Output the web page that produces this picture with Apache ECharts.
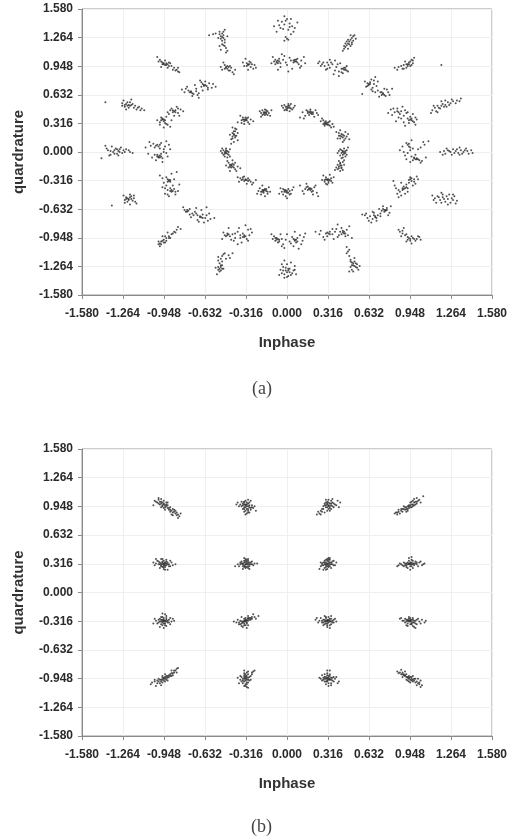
<!DOCTYPE html>
<html>
<head>
<meta charset="utf-8">
<script src="https://cdn.jsdelivr.net/npm/echarts@6/dist/echarts.min.js"></script>
<style>
html,body{margin:0;padding:0;background:#fff;}
#chart{width:515px;height:838px;}
</style>
</head>
<body>
<div id="chart"></div>
<script>
// Axis ticks (shared by both panels)
const tickValues = [-1.580,-1.264,-0.948,-0.632,-0.316,0.000,0.316,0.632,0.948,1.264,1.580];
const axisTitleX = 'Inphase';
const axisTitleY = 'quardrature';
const captions = ['(a)', '(b)'];

// Panel (a): received constellation, inner ring of clusters
const panelAInner = [
[-0.02,0.52],[0.00,0.50],[0.01,0.49],[0.03,0.48],[-0.01,0.47],[0.02,0.51],[0.04,0.47],[-0.03,0.49],[0.01,0.53],[0.05,0.49],[0.00,0.46],[0.02,0.45],
[0.18,0.43],[0.17,0.41],[0.19,0.44],[0.16,0.45],[0.20,0.42],[0.14,0.40],[0.10,0.38],[0.22,0.46],[0.24,0.41],[0.18,0.47],[0.12,0.44],[0.21,0.39],
[0.29,0.33],[0.30,0.31],[0.31,0.32],[0.32,0.30],[0.28,0.35],[0.33,0.29],[0.27,0.37],[0.34,0.27],[0.30,0.34],[0.35,0.31],[0.29,0.29],
[0.41,0.18],[0.43,0.16],[0.40,0.21],[0.44,0.13],[0.42,0.20],[0.46,0.17],[0.39,0.15],[0.45,0.22],[0.43,0.11],[0.48,0.14],[0.41,0.24],
[0.43,0.00],[0.44,-0.02],[0.42,0.02],[0.45,0.01],[0.41,-0.04],[0.44,0.04],[0.46,-0.03],[0.40,0.01],[0.43,-0.06],[0.47,0.05],[0.39,-0.01],[0.45,-0.05],
[0.41,-0.13],[0.40,-0.16],[0.42,-0.15],[0.39,-0.19],[0.43,-0.11],[0.41,-0.21],[0.38,-0.17],[0.44,-0.14],[0.40,-0.10],[0.42,-0.18],
[0.31,-0.30],[0.32,-0.32],[0.30,-0.28],[0.33,-0.31],[0.29,-0.33],[0.34,-0.29],[0.28,-0.26],[0.35,-0.34],[0.31,-0.36],[0.27,-0.31],[0.33,-0.25],
[0.17,-0.40],[0.18,-0.42],[0.16,-0.38],[0.19,-0.44],[0.14,-0.41],[0.21,-0.39],[0.12,-0.43],[0.20,-0.47],[0.10,-0.37],[0.23,-0.45],[0.15,-0.35],[0.24,-0.49],
[-0.01,-0.42],[0.00,-0.45],[-0.02,-0.44],[0.01,-0.41],[-0.03,-0.47],[0.02,-0.43],[-0.01,-0.49],[0.03,-0.46],[-0.05,-0.40],[0.05,-0.39],[0.00,-0.51],[-0.04,-0.44],
[-0.18,-0.42],[-0.17,-0.41],[-0.19,-0.44],[-0.16,-0.43],[-0.21,-0.40],[-0.15,-0.46],[-0.20,-0.47],[-0.14,-0.39],[-0.22,-0.43],[-0.13,-0.44],[-0.19,-0.37],[-0.17,-0.49],
[-0.32,-0.31],[-0.34,-0.30],[-0.30,-0.32],[-0.36,-0.29],[-0.28,-0.33],[-0.38,-0.28],[-0.26,-0.34],[-0.33,-0.27],[-0.31,-0.35],[-0.24,-0.31],[-0.37,-0.33],
[-0.43,-0.14],[-0.44,-0.16],[-0.42,-0.13],[-0.45,-0.12],[-0.41,-0.17],[-0.46,-0.10],[-0.40,-0.19],[-0.44,-0.21],[-0.38,-0.16],[-0.47,-0.15],[-0.42,-0.09],[-0.36,-0.18],
[-0.47,0.00],[-0.48,-0.02],[-0.46,0.01],[-0.49,0.02],[-0.45,-0.03],[-0.50,-0.01],[-0.47,0.04],[-0.44,0.03],[-0.48,-0.05],[-0.51,0.01],[-0.46,-0.06],
[-0.41,0.20],[-0.42,0.17],[-0.40,0.23],[-0.43,0.14],[-0.39,0.25],[-0.41,0.11],[-0.42,0.27],[-0.40,0.16],[-0.38,0.21],[-0.43,0.09],[-0.39,0.18],
[-0.32,0.36],[-0.33,0.34],[-0.31,0.37],[-0.34,0.38],[-0.30,0.33],[-0.35,0.35],[-0.28,0.36],[-0.36,0.40],[-0.26,0.34],[-0.33,0.31],[-0.38,0.33],
[-0.17,0.43],[-0.16,0.42],[-0.18,0.44],[-0.15,0.45],[-0.19,0.41],[-0.14,0.43],[-0.21,0.45],[-0.17,0.47],[-0.13,0.40],[-0.20,0.39],[-0.16,0.46]
];
const panelAInnerMore = [
[0.00,0.48],[-0.01,0.50],[0.02,0.49],[0.01,0.51],[-0.02,0.46],[0.03,0.53],[0.06,0.51],[-0.04,0.51],
[0.17,0.44],[0.19,0.42],[0.18,0.45],[0.16,0.43],[0.20,0.44],[0.15,0.46],[0.23,0.43],[0.13,0.37],
[0.30,0.32],[0.31,0.30],[0.29,0.31],[0.32,0.33],[0.28,0.31],[0.33,0.34],[0.26,0.34],[0.36,0.28],
[0.42,0.17],[0.41,0.15],[0.43,0.19],[0.44,0.18],[0.40,0.18],[0.45,0.15],[0.38,0.22],[0.47,0.20],
[0.43,0.01],[0.42,-0.01],[0.44,0.00],[0.43,-0.03],[0.45,-0.01],[0.41,0.03],[0.46,0.02],[0.42,-0.07],
[0.41,-0.15],[0.40,-0.18],[0.42,-0.17],[0.41,-0.12],[0.39,-0.14],[0.43,-0.20],[0.37,-0.20],[0.44,-0.09],
[0.31,-0.31],[0.32,-0.30],[0.30,-0.30],[0.32,-0.34],[0.29,-0.31],[0.34,-0.32],[0.30,-0.35],[0.36,-0.28],
[0.17,-0.41],[0.18,-0.40],[0.16,-0.42],[0.19,-0.41],[0.15,-0.39],[0.20,-0.43],[0.13,-0.46],[0.22,-0.37],
[-0.01,-0.44],[0.00,-0.43],[0.01,-0.45],[-0.02,-0.42],[0.02,-0.47],[-0.03,-0.41],[0.04,-0.42],[-0.06,-0.46],
[-0.18,-0.43],[-0.17,-0.42],[-0.19,-0.42],[-0.18,-0.45],[-0.16,-0.41],[-0.20,-0.44],[-0.15,-0.44],[-0.23,-0.46],
[-0.32,-0.30],[-0.33,-0.32],[-0.31,-0.31],[-0.35,-0.31],[-0.29,-0.31],[-0.34,-0.28],[-0.30,-0.29],[-0.27,-0.36],
[-0.43,-0.15],[-0.42,-0.16],[-0.44,-0.14],[-0.43,-0.17],[-0.41,-0.14],[-0.45,-0.17],[-0.40,-0.12],[-0.39,-0.21],
[-0.47,-0.01],[-0.48,0.00],[-0.46,-0.02],[-0.47,0.02],[-0.49,-0.03],[-0.45,0.00],[-0.50,0.04],[-0.44,-0.05],
[-0.41,0.19],[-0.42,0.21],[-0.40,0.18],[-0.41,0.23],[-0.42,0.15],[-0.40,0.26],[-0.44,0.19],[-0.38,0.13],
[-0.32,0.35],[-0.33,0.36],[-0.31,0.35],[-0.34,0.36],[-0.32,0.38],[-0.30,0.38],[-0.35,0.32],[-0.29,0.31],
[-0.17,0.44],[-0.18,0.42],[-0.16,0.44],[-0.17,0.41],[-0.19,0.46],[-0.15,0.41],[-0.20,0.43],[-0.12,0.46]
];

// Panel (a): middle ring of clusters
const panelAMiddle = [
[-0.08,0.99],[-0.07,1.01],[-0.09,0.97],[-0.06,1.03],[-0.10,1.00],[-0.05,0.98],[-0.11,1.05],[-0.03,1.02],[0.00,0.96],[-0.02,1.06],[0.03,1.01],[0.05,0.99],[0.06,1.02],[0.07,1.00],[0.08,1.03],[0.09,0.97],[0.11,1.01],[0.13,1.05],[0.10,0.93],[-0.07,0.91],[0.01,0.89],[-0.04,1.08],[0.14,0.98],
[0.25,1.00],[0.27,0.97],[0.29,0.95],[0.31,0.99],[0.33,0.93],[0.30,0.91],[0.35,0.97],[0.37,1.01],[0.38,0.94],[0.40,0.89],[0.42,0.92],[0.44,0.93],[0.45,0.91],[0.46,0.95],[0.43,0.87],[0.40,0.84],[0.36,0.86],[0.47,0.89],[0.41,0.98],[0.33,1.02],
[0.62,0.76],[0.63,0.74],[0.64,0.77],[0.61,0.72],[0.65,0.80],[0.66,0.71],[0.68,0.83],[0.69,0.73],[0.70,0.68],[0.72,0.66],[0.73,0.63],[0.74,0.65],[0.76,0.62],[0.71,0.61],[0.78,0.66],[0.66,0.67],[0.81,0.70],[0.58,0.64],[0.75,0.70],[0.67,0.79],
[0.80,0.47],[0.83,0.44],[0.85,0.48],[0.87,0.42],[0.88,0.45],[0.90,0.40],[0.92,0.43],[0.93,0.37],[0.95,0.39],[0.96,0.35],[0.98,0.33],[0.94,0.32],[1.00,0.36],[0.89,0.50],[0.86,0.38],[0.91,0.29],[0.84,0.34],[0.97,0.42],[0.78,0.43],[0.99,0.30],
[0.92,0.10],[0.94,0.06],[0.95,0.02],[0.93,-0.01],[0.96,-0.05],[0.98,-0.07],[1.00,-0.08],[1.02,-0.09],[0.99,-0.03],[1.04,-0.10],[0.97,0.04],[1.01,0.03],[0.90,0.00],[0.87,0.02],[1.06,0.08],[1.09,0.12],[0.96,0.13],[1.03,-0.12],[0.91,-0.04],[0.95,-0.11],
[0.98,-0.30],[0.96,-0.32],[0.94,-0.34],[0.92,-0.36],[0.90,-0.38],[0.89,-0.42],[0.87,-0.44],[0.85,-0.46],[0.93,-0.40],[0.95,-0.28],[1.00,-0.27],[0.88,-0.34],[0.84,-0.40],[0.91,-0.46],[0.86,-0.50],[0.97,-0.37],[0.82,-0.32],[0.99,-0.35],
[0.76,-0.64],[0.75,-0.66],[0.73,-0.65],[0.77,-0.62],[0.72,-0.68],[0.70,-0.70],[0.68,-0.72],[0.66,-0.74],[0.64,-0.71],[0.62,-0.73],[0.60,-0.70],[0.69,-0.76],[0.74,-0.60],[0.79,-0.67],[0.65,-0.78],[0.71,-0.63],[0.58,-0.69],[0.67,-0.67],
[0.43,-0.87],[0.44,-0.90],[0.42,-0.84],[0.45,-0.93],[0.41,-0.88],[0.46,-0.86],[0.40,-0.92],[0.38,-0.85],[0.35,-0.91],[0.33,-0.88],[0.31,-0.93],[0.30,-0.90],[0.28,-0.94],[0.26,-0.87],[0.36,-0.96],[0.48,-0.82],[0.22,-0.88],[0.50,-0.95],[0.39,-0.80],
[-0.10,-0.93],[-0.08,-0.95],[-0.06,-0.97],[-0.04,-0.96],[-0.07,-1.00],[-0.09,-0.98],[-0.03,-1.02],[-0.05,-0.91],[-0.11,-0.96],[0.02,-0.99],[0.04,-0.94],[0.06,-0.97],[0.07,-1.00],[0.08,-0.95],[0.10,-0.92],[0.05,-1.04],[0.09,-1.07],[0.12,-0.98],[0.14,-0.90],[-0.02,-1.06],[0.00,-0.91],[0.06,-0.88],
[-0.48,-0.92],[-0.46,-0.90],[-0.44,-0.93],[-0.42,-0.91],[-0.40,-0.95],[-0.38,-0.88],[-0.36,-0.92],[-0.34,-0.90],[-0.33,-0.94],[-0.31,-0.96],[-0.29,-0.92],[-0.30,-0.86],[-0.32,-0.81],[-0.35,-1.00],[-0.43,-0.97],[-0.27,-0.89],[-0.45,-0.84],[-0.38,-1.02],[-0.50,-0.96],
[-0.79,-0.64],[-0.77,-0.66],[-0.75,-0.63],[-0.73,-0.68],[-0.71,-0.66],[-0.69,-0.70],[-0.67,-0.72],[-0.65,-0.69],[-0.63,-0.73],[-0.61,-0.76],[-0.64,-0.78],[-0.70,-0.62],[-0.66,-0.64],[-0.60,-0.68],[-0.74,-0.72],[-0.56,-0.73],[-0.68,-0.77],[-0.62,-0.61],
[-0.91,-0.31],[-0.92,-0.30],[-0.90,-0.33],[-0.93,-0.28],[-0.89,-0.24],[-0.95,-0.34],[-0.88,-0.37],[-0.90,-0.40],[-0.92,-0.42],[-0.89,-0.44],[-0.87,-0.41],[-0.94,-0.46],[-0.86,-0.47],[-0.91,-0.49],[-0.96,-0.39],[-0.84,-0.43],[-0.98,-0.26],[-0.85,-0.22],
[-0.98,-0.04],[-0.99,-0.06],[-0.97,-0.02],[-1.00,-0.05],[-0.96,-0.07],[-1.02,-0.03],[-0.95,0.00],[-0.98,0.04],[-1.00,0.08],[-0.97,0.10],[-1.03,0.09],[-1.05,0.07],[-0.94,0.06],[-0.92,-0.05],[-1.07,-0.02],[-0.90,0.03],[-1.09,0.05],[-0.96,-0.11],[-1.01,-0.09],[-0.93,0.12],
[-0.96,0.36],[-0.95,0.34],[-0.97,0.38],[-0.94,0.32],[-0.92,0.30],[-0.98,0.33],[-0.93,0.39],[-0.90,0.28],[-0.91,0.42],[-0.88,0.44],[-0.86,0.46],[-0.89,0.48],[-0.84,0.43],[-0.82,0.47],[-0.87,0.40],[-1.00,0.35],[-0.80,0.45],[-0.85,0.50],[-0.95,0.27],[-0.89,0.35],
[-0.78,0.70],[-0.76,0.68],[-0.74,0.66],[-0.72,0.64],[-0.70,0.67],[-0.73,0.62],[-0.69,0.63],[-0.66,0.72],[-0.64,0.74],[-0.62,0.73],[-0.60,0.76],[-0.63,0.78],[-0.67,0.79],[-0.58,0.71],[-0.55,0.72],[-0.71,0.74],[-0.81,0.69],[-0.68,0.60],[-0.65,0.68],[-0.61,0.69],
[-0.47,0.94],[-0.46,0.92],[-0.48,0.96],[-0.45,0.90],[-0.49,0.99],[-0.44,0.95],[-0.42,0.88],[-0.43,0.93],[-0.50,0.91],[-0.41,0.86],[-0.31,0.98],[-0.30,0.96],[-0.29,1.00],[-0.28,0.94],[-0.32,1.03],[-0.26,0.92],[-0.27,0.97],[-0.33,0.95],[-0.24,0.93],[-0.30,0.91]
];
const panelAMiddleMore = [
[-0.08,1.00],[-0.07,0.98],[-0.09,1.02],[-0.06,1.00],[0.06,1.00],[0.07,1.02],[0.05,1.01],[0.08,0.99],[-0.12,0.98],[0.02,1.04],[-0.01,0.99],[0.11,0.95],[-0.05,0.94],[0.04,0.92],
[0.44,0.91],[0.45,0.93],[0.43,0.92],[0.46,0.90],[0.28,0.99],[0.26,0.95],[0.32,0.96],[0.34,0.99],[0.39,0.97],[0.42,0.88],[0.37,0.90],[0.31,0.92],[0.24,0.98],
[0.63,0.75],[0.62,0.73],[0.64,0.75],[0.74,0.64],[0.75,0.63],[0.73,0.66],[0.67,0.75],[0.70,0.78],[0.77,0.69],[0.60,0.78],[0.68,0.66],[0.79,0.63],[0.65,0.69],
[0.95,0.36],[0.96,0.37],[0.94,0.35],[0.97,0.34],[0.86,0.44],[0.85,0.45],[0.82,0.48],[0.91,0.46],[0.88,0.37],[0.99,0.38],[0.93,0.44],[0.81,0.41],[0.90,0.33],
[0.98,-0.06],[0.99,-0.08],[1.00,-0.07],[1.01,-0.08],[0.97,-0.09],[0.93,0.08],[0.94,0.09],[0.95,0.05],[1.03,0.05],[1.05,0.11],[0.89,0.06],[0.92,-0.08],[1.07,-0.06],
[0.95,-0.30],[0.96,-0.29],[0.94,-0.31],[0.91,-0.40],[0.90,-0.41],[0.89,-0.40],[0.92,-0.39],[0.86,-0.42],[0.98,-0.33],[0.93,-0.44],[0.88,-0.48],[1.01,-0.30],[0.83,-0.37],
[0.75,-0.64],[0.76,-0.65],[0.74,-0.63],[0.77,-0.64],[0.68,-0.71],[0.69,-0.73],[0.67,-0.70],[0.72,-0.71],[0.63,-0.76],[0.80,-0.60],[0.66,-0.66],[0.61,-0.68],[0.78,-0.70],
[0.43,-0.89],[0.44,-0.88],[0.45,-0.90],[0.42,-0.91],[0.32,-0.90],[0.33,-0.91],[0.31,-0.89],[0.37,-0.88],[0.39,-0.94],[0.29,-0.97],[0.47,-0.92],[0.35,-0.85],[0.25,-0.91],
[-0.08,-0.97],[-0.07,-0.96],[-0.09,-0.95],[-0.06,-0.99],[0.06,-0.98],[0.07,-0.97],[0.08,-0.99],[0.05,-0.96],[-0.12,-0.91],[0.11,-1.02],[-0.01,-0.97],[0.03,-1.01],[-0.04,-1.04],[0.13,-0.94],
[-0.46,-0.92],[-0.45,-0.91],[-0.47,-0.93],[-0.33,-0.92],[-0.32,-0.93],[-0.34,-0.94],[-0.36,-0.95],[-0.40,-0.90],[-0.41,-0.98],[-0.30,-0.98],[-0.28,-0.85],[-0.49,-0.89],[-0.37,-0.84],
[-0.77,-0.64],[-0.76,-0.65],[-0.78,-0.66],[-0.66,-0.72],[-0.67,-0.71],[-0.65,-0.73],[-0.70,-0.68],[-0.72,-0.70],[-0.62,-0.70],[-0.59,-0.74],[-0.75,-0.69],[-0.69,-0.75],[-0.80,-0.61],
[-0.91,-0.32],[-0.92,-0.33],[-0.90,-0.31],[-0.89,-0.42],[-0.90,-0.43],[-0.88,-0.43],[-0.93,-0.37],[-0.87,-0.30],[-0.94,-0.40],[-0.86,-0.44],[-0.92,-0.47],[-0.96,-0.29],[-0.83,-0.36],
[-0.99,-0.05],[-0.98,-0.06],[-1.00,-0.03],[-0.97,-0.05],[-0.99,0.06],[-1.01,0.07],[-0.98,0.08],[-1.02,0.05],[-0.95,0.03],[-1.04,-0.06],[-0.93,-0.01],[-1.06,0.11],[-0.91,0.08],
[-0.96,0.37],[-0.95,0.36],[-0.97,0.35],[-0.94,0.35],[-0.88,0.46],[-0.87,0.45],[-0.86,0.44],[-0.90,0.46],[-0.93,0.31],[-0.84,0.48],[-0.98,0.30],[-0.92,0.44],[-0.83,0.40],
[-0.74,0.67],[-0.75,0.66],[-0.73,0.65],[-0.64,0.73],[-0.63,0.74],[-0.65,0.75],[-0.77,0.72],[-0.61,0.71],[-0.70,0.70],[-0.68,0.65],[-0.57,0.75],[-0.79,0.66],[-0.66,0.77],
[-0.47,0.93],[-0.46,0.95],[-0.48,0.92],[-0.45,0.94],[-0.30,0.97],[-0.31,0.95],[-0.29,0.97],[-0.28,0.99],[-0.44,0.90],[-0.34,0.99],[-0.40,0.91],[-0.25,0.96],[-0.51,0.94]
];

// Panel (a): outer ring of clusters
const panelAOuter = [
[-0.02,1.50],[0.00,1.47],[-0.04,1.44],[0.02,1.42],[-0.06,1.40],[0.04,1.39],[-0.03,1.36],[0.01,1.35],[0.06,1.37],[-0.08,1.33],[-0.01,1.27],[0.00,1.25],[-0.02,1.23],[0.03,1.30],[-0.10,1.39],[0.08,1.43],
[0.48,1.22],[0.47,1.20],[0.49,1.24],[0.46,1.18],[0.50,1.26],[0.45,1.16],[0.51,1.28],[0.44,1.14],[0.48,1.19],[0.50,1.21],[0.43,1.12],[0.52,1.29],
[0.94,0.97],[0.93,0.95],[0.95,1.00],[0.92,0.93],[0.96,1.02],[0.90,0.96],[0.89,0.92],[0.97,0.98],[0.86,0.94],[0.83,0.93],[0.98,1.04],[0.91,1.00],[1.19,0.96],
[1.12,0.46],[1.14,0.49],[1.16,0.51],[1.18,0.48],[1.20,0.53],[1.22,0.52],[1.24,0.55],[1.26,0.54],[1.28,0.56],[1.31,0.57],[1.34,0.59],[1.15,0.45],[1.19,0.56],[1.11,0.43],[1.23,0.50],
[1.18,0.00],[1.21,0.01],[1.24,0.02],[1.26,0.00],[1.28,0.03],[1.30,0.01],[1.32,-0.01],[1.34,0.02],[1.36,0.00],[1.38,0.04],[1.40,-0.02],[1.43,-0.01],[1.27,-0.03],[1.33,0.05],[1.22,-0.02],
[1.12,-0.48],[1.14,-0.51],[1.16,-0.49],[1.18,-0.53],[1.20,-0.50],[1.22,-0.55],[1.24,-0.52],[1.26,-0.56],[1.28,-0.53],[1.30,-0.57],[1.19,-0.45],[1.25,-0.47],[1.15,-0.56],[1.29,-0.49],
[0.87,-0.88],[0.89,-0.90],[0.91,-0.92],[0.93,-0.94],[0.95,-0.96],[0.97,-0.95],[0.99,-0.98],[1.01,-0.93],[0.92,-0.99],[0.86,-0.86],[1.03,-0.97],[0.90,-0.84],[0.96,-1.01],
[0.47,-1.10],[0.46,-1.05],[0.48,-1.15],[0.49,-1.19],[0.50,-1.22],[0.51,-1.25],[0.52,-1.21],[0.53,-1.27],[0.50,-1.30],[0.48,-1.32],[0.54,-1.24],[0.55,-1.30],[0.52,-1.17],
[-0.02,-1.20],[0.00,-1.24],[-0.03,-1.27],[0.01,-1.29],[-0.01,-1.31],[0.02,-1.33],[-0.04,-1.34],[0.03,-1.36],[0.00,-1.38],[-0.05,-1.30],[0.05,-1.31],[0.06,-1.26],[-0.02,-1.39],[0.07,-1.35],
[-0.48,-1.12],[-0.50,-1.15],[-0.51,-1.18],[-0.50,-1.21],[-0.52,-1.23],[-0.51,-1.25],[-0.53,-1.27],[-0.50,-1.29],[-0.52,-1.32],[-0.54,-1.35],[-0.45,-1.14],[-0.42,-1.12],[-0.53,-1.20],
[-0.99,-1.02],[-0.97,-0.99],[-0.98,-1.04],[-0.95,-0.97],[-0.93,-0.95],[-0.91,-0.93],[-0.94,-1.00],[-0.89,-0.91],[-0.87,-0.88],[-0.85,-0.86],[-0.82,-0.85],[-0.92,-0.89],[-0.96,-0.93],
[-1.24,-0.50],[-1.22,-0.52],[-1.20,-0.49],[-1.23,-0.55],[-1.21,-0.47],[-1.19,-0.54],[-1.25,-0.53],[-1.18,-0.51],[-1.16,-0.57],[-1.26,-0.48],[-1.21,-0.58],[-1.35,-0.59],
[-1.40,0.07],[-1.38,0.02],[-1.36,-0.03],[-1.34,0.00],[-1.32,0.04],[-1.30,0.01],[-1.31,-0.02],[-1.29,0.03],[-1.27,-0.01],[-1.25,0.00],[-1.22,0.02],[-1.19,-0.01],[-1.35,0.06],[-1.28,0.05],[-1.37,-0.04],[-1.43,-0.07],
[-1.27,0.54],[-1.25,0.52],[-1.23,0.55],[-1.21,0.51],[-1.19,0.53],[-1.22,0.49],[-1.18,0.49],[-1.16,0.47],[-1.14,0.50],[-1.12,0.48],[-1.26,0.57],[-1.20,0.58],[-1.24,0.47],[-1.10,0.46],[-1.40,0.55],
[-1.00,1.05],[-0.98,1.02],[-0.96,0.99],[-0.95,0.97],[-0.93,0.96],[-0.94,1.01],[-0.91,0.95],[-0.90,0.98],[-0.92,0.93],[-0.88,0.91],[-0.86,0.90],[-0.84,0.93],[-0.83,0.88],[-0.97,0.94],
[-0.60,1.29],[-0.57,1.30],[-0.52,1.33],[-0.50,1.31],[-0.51,1.28],[-0.49,1.26],[-0.50,1.23],[-0.48,1.21],[-0.49,1.18],[-0.47,1.15],[-0.51,1.13],[-0.46,1.12],[-0.48,1.35],[-0.53,1.26]
];
const panelAOuterMore = [
[-0.01,1.45],[0.03,1.47],[-0.05,1.37],[0.02,1.38],[-0.02,1.41],[0.05,1.33],[-0.07,1.45],[0.01,1.24],
[0.46,1.22],[0.50,1.19],[0.47,1.24],[0.49,1.17],[0.45,1.20],[0.51,1.23],[0.53,1.25],[0.44,1.17],[0.49,1.29],[0.47,1.14],
[0.93,0.97],[0.94,0.99],[0.95,0.95],[0.92,0.97],[0.88,0.95],[0.96,0.96],[0.90,0.92],[0.85,0.91],[0.97,1.01],
[1.17,0.49],[1.21,0.50],[1.19,0.51],[1.25,0.52],[1.13,0.51],[1.27,0.58],[1.30,0.54],[1.16,0.44],[1.22,0.57],[1.33,0.56],
[1.25,0.01],[1.29,-0.01],[1.31,0.03],[1.35,-0.02],[1.37,0.02],[1.23,0.04],[1.20,-0.03],[1.39,0.01],[1.42,0.02],[1.33,-0.03],
[1.17,-0.50],[1.21,-0.52],[1.23,-0.49],[1.19,-0.56],[1.27,-0.51],[1.13,-0.53],[1.24,-0.58],[1.28,-0.47],[1.31,-0.54],[1.20,-0.47],
[0.92,-0.91],[0.94,-0.95],[0.96,-0.93],[0.98,-0.96],[0.93,-0.97],[0.89,-0.87],[1.00,-0.96],[0.95,-0.98],[1.02,-0.94],[0.88,-0.93],
[0.49,-1.21],[0.51,-1.23],[0.50,-1.25],[0.52,-1.26],[0.53,-1.23],[0.49,-1.27],[0.46,-1.12],[0.54,-1.28],[0.51,-1.32],[0.56,-1.26],[0.48,-1.08],
[-0.01,-1.28],[0.01,-1.31],[0.00,-1.33],[0.02,-1.29],[-0.03,-1.31],[0.04,-1.34],[-0.02,-1.35],[0.01,-1.37],[0.06,-1.30],[-0.06,-1.36],[0.03,-1.22],[-0.04,-1.24],
[-0.51,-1.27],[-0.52,-1.29],[-0.50,-1.25],[-0.53,-1.30],[-0.49,-1.29],[-0.51,-1.31],[-0.47,-1.18],[-0.53,-1.16],[-0.49,-1.13],[-0.44,-1.17],[-0.55,-1.28],
[-0.98,-1.01],[-0.96,-0.98],[-0.97,-1.02],[-0.95,-1.00],[-0.93,-0.98],[-0.91,-0.95],[-0.90,-0.95],[-0.88,-0.90],[-0.86,-0.89],[-0.84,-0.83],[-0.94,-0.93],[-0.99,-0.99],
[-1.23,-0.51],[-1.21,-0.50],[-1.22,-0.53],[-1.20,-0.52],[-1.24,-0.52],[-1.18,-0.48],[-1.17,-0.55],[-1.25,-0.56],
[-1.33,0.02],[-1.31,0.03],[-1.29,0.00],[-1.33,-0.02],[-1.26,0.02],[-1.36,0.01],[-1.30,-0.04],[-1.24,0.03],[-1.21,0.00],[-1.39,0.04],
[-1.24,0.53],[-1.22,0.52],[-1.23,0.51],[-1.20,0.52],[-1.21,0.55],[-1.25,0.50],[-1.17,0.51],[-1.15,0.49],[-1.13,0.46],[-1.27,0.51],
[-0.95,0.98],[-0.94,0.96],[-0.96,0.97],[-0.93,0.98],[-0.92,0.97],[-0.97,1.00],[-0.99,1.00],[-0.89,0.95],[-0.87,0.93],[-0.85,0.91],[-0.91,0.99],[-0.84,0.89],
[-0.50,1.27],[-0.51,1.25],[-0.49,1.29],[-0.52,1.30],[-0.48,1.24],[-0.50,1.19],[-0.48,1.17],[-0.52,1.17],[-0.46,1.28],[-0.55,1.31],[-0.49,1.33],[-0.47,1.10]
];

// Panel (b): 16-QAM constellation, rows from top (Q = 0.948) to bottom (Q = -0.948)
const panelBRow1 = [
[-1.02,1.01],[-1.00,0.99],[-0.99,1.02],[-0.98,0.97],[-0.97,1.00],[-0.96,0.96],[-0.95,0.98],[-0.94,0.94],[-0.93,0.97],[-0.92,0.93],[-0.91,0.91],[-0.90,0.94],[-0.89,0.90],[-0.88,0.88],[-0.87,0.91],[-0.86,0.87],[-0.85,0.85],[-0.83,0.84],[-0.97,1.03],[-1.03,0.96],[-0.94,0.91],[-0.89,0.86],[-0.92,0.99],[-0.95,0.93],[-0.84,0.82],
[-0.96,0.99],[-0.95,0.97],[-0.97,0.98],[-0.94,0.96],[-0.96,0.95],[-0.93,0.95],[-0.98,1.00],[-0.95,1.01],[-0.99,0.98],[-0.92,0.96],[-0.91,0.93],[-0.90,0.91],[-0.88,0.92],[-0.87,0.89],[-0.86,0.90],[-0.84,0.86],[-0.82,0.87],[-1.01,1.00],[-0.99,1.04],[-0.93,0.99],[-0.90,0.89],[-0.85,0.88],[-0.97,0.94],[-0.88,0.85],
[-0.33,0.99],[-0.32,0.97],[-0.31,0.95],[-0.30,0.98],[-0.29,0.94],[-0.31,0.92],[-0.33,0.94],[-0.34,0.96],[-0.28,0.91],[-0.30,0.90],[-0.32,1.01],[-0.35,1.00],[-0.27,0.96],[-0.36,0.97],[-0.29,0.88],[-0.33,0.89],[-0.26,0.93],[-0.38,0.99],[-0.31,0.87],[-0.30,1.02],[-0.24,0.90],[-0.34,0.92],
[-0.32,0.96],[-0.31,0.97],[-0.33,0.97],[-0.30,0.95],[-0.32,0.94],[-0.31,0.99],[-0.29,0.96],[-0.33,0.92],[-0.30,0.92],[-0.34,0.98],[-0.28,0.93],[-0.32,0.90],[-0.35,0.95],[-0.29,0.99],[-0.27,0.94],[-0.33,1.00],[-0.30,0.88],[-0.37,0.95],[-0.25,0.95],[-0.32,0.86],[-0.39,0.97],[-0.28,1.01],
[0.31,0.97],[0.32,0.95],[0.33,0.98],[0.30,0.94],[0.34,0.96],[0.31,1.00],[0.29,0.96],[0.35,0.99],[0.32,0.92],[0.28,0.92],[0.36,0.94],[0.30,1.02],[0.34,1.01],[0.27,0.89],[0.25,0.87],[0.29,0.88],[0.37,0.97],[0.39,1.01],[0.33,0.90],[0.23,0.86],[0.41,0.99],[0.35,1.03],
[0.32,0.96],[0.31,0.98],[0.33,0.95],[0.30,0.96],[0.32,0.99],[0.34,0.98],[0.31,0.94],[0.29,0.98],[0.33,0.93],[0.35,0.95],[0.30,0.99],[0.28,0.95],[0.36,0.98],[0.32,1.02],[0.27,0.92],[0.26,0.90],[0.34,0.92],[0.38,0.96],[0.24,0.89],[0.31,0.90],[0.40,0.94],[0.26,0.86],
[0.84,0.88],[0.86,0.89],[0.88,0.90],[0.89,0.92],[0.91,0.91],[0.92,0.94],[0.93,0.92],[0.94,0.95],[0.95,0.96],[0.96,0.94],[0.97,0.97],[0.98,0.99],[0.99,0.97],[1.00,1.00],[0.90,0.95],[0.87,0.87],[0.95,0.99],[0.92,0.89],[1.02,1.02],[1.05,1.06],[0.85,0.86],[0.97,1.01],
[0.94,0.96],[0.95,0.94],[0.93,0.95],[0.96,0.97],[0.92,0.92],[0.97,0.95],[0.94,0.93],[0.96,1.00],[0.91,0.94],[0.98,0.96],[0.93,0.90],[0.99,1.00],[0.90,0.92],[1.00,0.98],[0.89,0.89],[1.01,1.01],[0.88,0.92],[0.86,0.91],[1.03,0.99],[0.85,0.88],[0.98,1.03],[0.83,0.87],[1.00,1.04]
];
const panelBRow2 = [
[-0.96,0.33],[-0.95,0.31],[-0.94,0.32],[-0.97,0.30],[-0.93,0.30],[-0.98,0.33],[-0.95,0.35],[-0.92,0.33],[-0.99,0.31],[-0.94,0.28],[-0.96,0.28],[-0.91,0.31],[-1.00,0.35],[-0.93,0.36],[-0.97,0.37],[-0.90,0.29],[-1.02,0.30],[-0.95,0.26],[-0.89,0.33],[-0.92,0.25],[-0.86,0.31],[-1.01,0.37],
[-0.95,0.32],[-0.96,0.31],[-0.94,0.33],[-0.95,0.30],[-0.97,0.32],[-0.93,0.32],[-0.96,0.34],[-0.94,0.30],[-0.98,0.31],[-0.92,0.31],[-0.95,0.28],[-0.97,0.29],[-0.93,0.34],[-0.99,0.34],[-0.91,0.29],[-0.96,0.37],[-0.94,0.25],[-1.01,0.32],[-0.88,0.30],[-0.98,0.27],[-0.90,0.35],[-1.03,0.33],
[-0.32,0.33],[-0.31,0.31],[-0.33,0.30],[-0.30,0.33],[-0.34,0.32],[-0.32,0.35],[-0.29,0.31],[-0.33,0.28],[-0.30,0.29],[-0.35,0.34],[-0.31,0.36],[-0.28,0.33],[-0.34,0.29],[-0.32,0.27],[-0.27,0.31],[-0.36,0.31],[-0.30,0.37],[-0.25,0.32],[-0.38,0.31],[-0.33,0.38],[-0.29,0.26],[-0.40,0.29],
[-0.31,0.32],[-0.32,0.31],[-0.30,0.31],[-0.33,0.33],[-0.31,0.34],[-0.32,0.29],[-0.29,0.33],[-0.34,0.31],[-0.30,0.35],[-0.33,0.35],[-0.28,0.31],[-0.35,0.32],[-0.31,0.28],[-0.29,0.29],[-0.27,0.34],[-0.36,0.33],[-0.32,0.37],[-0.26,0.30],[-0.37,0.29],[-0.30,0.27],[-0.34,0.26],[-0.23,0.32],
[0.31,0.32],[0.32,0.30],[0.30,0.31],[0.33,0.33],[0.29,0.33],[0.31,0.35],[0.34,0.31],[0.28,0.30],[0.32,0.28],[0.30,0.28],[0.35,0.34],[0.31,0.37],[0.27,0.32],[0.33,0.36],[0.29,0.35],[0.36,0.30],[0.26,0.29],[0.34,0.27],[0.25,0.26],[0.38,0.33],[0.30,0.25],[0.32,0.38],
[0.32,0.32],[0.31,0.31],[0.30,0.33],[0.33,0.31],[0.32,0.34],[0.30,0.30],[0.33,0.29],[0.29,0.31],[0.31,0.29],[0.34,0.33],[0.28,0.33],[0.32,0.36],[0.30,0.36],[0.35,0.31],[0.27,0.30],[0.33,0.38],[0.29,0.27],[0.36,0.35],[0.26,0.33],[0.31,0.26],[0.37,0.30],[0.28,0.25],
[0.95,0.32],[0.94,0.31],[0.96,0.33],[0.93,0.33],[0.97,0.31],[0.92,0.30],[0.98,0.32],[0.95,0.29],[0.99,0.34],[0.91,0.32],[1.00,0.31],[0.90,0.29],[0.96,0.36],[0.93,0.27],[1.02,0.33],[0.88,0.31],[0.94,0.38],[1.04,0.30],[0.86,0.30],[0.97,0.27],[1.06,0.32],[0.95,0.25],
[0.95,0.31],[0.94,0.32],[0.96,0.31],[0.93,0.31],[0.95,0.33],[0.97,0.32],[0.92,0.32],[0.96,0.29],[0.98,0.30],[0.91,0.30],[0.99,0.32],[0.94,0.35],[0.90,0.33],[1.00,0.33],[0.97,0.35],[0.89,0.30],[1.01,0.29],[0.92,0.28],[1.03,0.34],[0.87,0.32],[0.96,0.39],[1.05,0.31],[0.85,0.29]
];
const panelBRow3 = [
[-0.95,-0.31],[-0.96,-0.30],[-0.94,-0.32],[-0.97,-0.32],[-0.93,-0.30],[-0.95,-0.34],[-0.98,-0.29],[-0.92,-0.33],[-0.96,-0.27],[-0.94,-0.36],[-0.99,-0.33],[-0.91,-0.30],[-0.97,-0.35],[-0.93,-0.26],[-1.01,-0.31],[-0.89,-0.32],[-0.95,-0.39],[-0.90,-0.28],[-1.03,-0.34],[-0.96,-0.23],[-0.87,-0.31],[-0.93,-0.37],
[-0.95,-0.32],[-0.96,-0.31],[-0.94,-0.31],[-0.95,-0.30],[-0.97,-0.30],[-0.93,-0.32],[-0.96,-0.33],[-0.94,-0.34],[-0.98,-0.32],[-0.92,-0.31],[-0.95,-0.28],[-0.97,-0.27],[-0.99,-0.30],[-0.91,-0.33],[-0.93,-0.28],[-0.96,-0.36],[-1.00,-0.34],[-0.90,-0.35],[-0.94,-0.24],[-1.02,-0.29],[-0.88,-0.29],[-0.98,-0.38],
[-0.32,-0.31],[-0.31,-0.30],[-0.33,-0.32],[-0.30,-0.29],[-0.34,-0.33],[-0.31,-0.33],[-0.29,-0.28],[-0.35,-0.34],[-0.33,-0.29],[-0.28,-0.30],[-0.36,-0.31],[-0.32,-0.36],[-0.30,-0.26],[-0.37,-0.35],[-0.27,-0.27],[-0.34,-0.38],[-0.39,-0.33],[-0.26,-0.24],[-0.31,-0.39],[-0.41,-0.32],[-0.24,-0.29],[-0.35,-0.27],
[-0.32,-0.32],[-0.31,-0.31],[-0.33,-0.31],[-0.32,-0.30],[-0.30,-0.31],[-0.34,-0.32],[-0.31,-0.34],[-0.33,-0.34],[-0.29,-0.30],[-0.35,-0.32],[-0.30,-0.28],[-0.32,-0.28],[-0.36,-0.35],[-0.28,-0.28],[-0.33,-0.36],[-0.37,-0.33],[-0.27,-0.29],[-0.30,-0.36],[-0.38,-0.30],[-0.25,-0.27],[-0.35,-0.37],[-0.22,-0.26],
[0.31,-0.31],[0.32,-0.30],[0.30,-0.32],[0.33,-0.32],[0.29,-0.30],[0.31,-0.34],[0.34,-0.29],[0.28,-0.33],[0.32,-0.27],[0.30,-0.28],[0.35,-0.33],[0.27,-0.31],[0.33,-0.36],[0.29,-0.35],[0.36,-0.30],[0.26,-0.28],[0.31,-0.38],[0.38,-0.32],[0.24,-0.33],[0.34,-0.26],[0.22,-0.30],[0.29,-0.26],
[0.31,-0.32],[0.32,-0.31],[0.30,-0.31],[0.33,-0.31],[0.31,-0.30],[0.32,-0.33],[0.30,-0.34],[0.34,-0.32],[0.29,-0.32],[0.33,-0.29],[0.28,-0.30],[0.35,-0.31],[0.31,-0.36],[0.27,-0.33],[0.34,-0.35],[0.30,-0.27],[0.36,-0.33],[0.25,-0.31],[0.37,-0.29],[0.28,-0.36],[0.33,-0.39],[0.23,-0.28],
[0.95,-0.32],[0.94,-0.31],[0.96,-0.30],[0.93,-0.30],[0.97,-0.33],[0.92,-0.32],[0.95,-0.28],[0.98,-0.31],[0.96,-0.35],[0.91,-0.29],[0.99,-0.34],[0.93,-0.34],[1.00,-0.30],[0.89,-0.31],[0.97,-0.37],[1.02,-0.32],[0.94,-0.27],[0.87,-0.29],[0.99,-0.39],[1.04,-0.30],[0.92,-0.36],[1.06,-0.33],
[0.95,-0.31],[0.94,-0.32],[0.96,-0.32],[0.93,-0.31],[0.95,-0.30],[0.97,-0.30],[0.94,-0.29],[0.96,-0.34],[0.98,-0.33],[0.92,-0.30],[0.95,-0.35],[0.99,-0.31],[0.91,-0.33],[0.97,-0.28],[1.00,-0.35],[0.90,-0.31],[1.01,-0.29],[0.93,-0.37],[0.88,-0.28],[1.03,-0.34],[0.98,-0.38],[1.07,-0.31]
];
const panelBRow4 = [
[-1.04,-0.99],[-1.02,-0.98],[-1.00,-0.97],[-0.99,-0.95],[-0.97,-0.96],[-0.96,-0.94],[-0.95,-0.95],[-0.94,-0.93],[-0.93,-0.92],[-0.92,-0.94],[-0.91,-0.91],[-0.90,-0.90],[-0.89,-0.92],[-0.88,-0.89],[-0.87,-0.88],[-0.86,-0.86],[-0.98,-1.00],[-0.96,-0.99],[-1.01,-1.03],[-0.94,-0.90],[-0.89,-0.86],[-0.85,-0.84],[-0.92,-0.97],
[-0.95,-0.94],[-0.94,-0.95],[-0.96,-0.96],[-0.93,-0.94],[-0.97,-0.98],[-0.92,-0.92],[-0.98,-0.96],[-0.95,-0.97],[-0.91,-0.93],[-0.99,-0.98],[-0.90,-0.92],[-0.93,-0.96],[-0.96,-0.92],[-1.00,-1.00],[-0.89,-0.89],[-0.94,-0.98],[-0.88,-0.91],[-1.02,-0.96],[-0.87,-0.86],[-0.97,-1.02],[-0.85,-0.88],[-1.05,-1.01],[-0.84,-0.83],
[-0.32,-0.94],[-0.31,-0.96],[-0.33,-0.95],[-0.32,-0.92],[-0.30,-0.94],[-0.31,-0.99],[-0.34,-0.97],[-0.32,-1.01],[-0.30,-0.90],[-0.33,-0.89],[-0.31,-0.88],[-0.29,-0.97],[-0.35,-0.93],[-0.32,-1.03],[-0.28,-0.92],[-0.34,-1.00],[-0.30,-1.05],[-0.36,-0.96],[-0.27,-0.88],[-0.26,-0.87],[-0.38,-0.94],[-0.33,-0.86],
[-0.32,-0.95],[-0.31,-0.94],[-0.33,-0.93],[-0.32,-0.97],[-0.30,-0.96],[-0.31,-0.92],[-0.33,-0.98],[-0.32,-0.90],[-0.30,-0.99],[-0.34,-0.95],[-0.31,-1.01],[-0.29,-0.93],[-0.33,-0.91],[-0.35,-0.98],[-0.30,-0.87],[-0.28,-0.96],[-0.33,-1.03],[-0.36,-0.92],[-0.27,-0.90],[-0.31,-1.04],[-0.25,-0.86],[-0.37,-1.00],
[0.32,-0.95],[0.31,-0.94],[0.33,-0.96],[0.30,-0.95],[0.32,-0.92],[0.34,-0.94],[0.31,-0.98],[0.29,-0.93],[0.33,-0.90],[0.35,-0.97],[0.28,-0.96],[0.31,-0.89],[0.34,-1.00],[0.30,-1.01],[0.36,-0.93],[0.27,-0.91],[0.32,-1.03],[0.37,-0.95],[0.25,-0.94],[0.33,-0.86],[0.40,-0.98],[0.29,-0.98],
[0.31,-0.95],[0.32,-0.94],[0.30,-0.93],[0.33,-0.95],[0.31,-0.97],[0.32,-0.96],[0.29,-0.95],[0.34,-0.96],[0.30,-0.98],[0.33,-0.92],[0.28,-0.94],[0.35,-0.94],[0.31,-0.91],[0.32,-1.00],[0.27,-0.97],[0.36,-0.98],[0.29,-0.90],[0.34,-1.02],[0.38,-0.93],[0.26,-0.95],[0.39,-1.00],[0.31,-0.86],
[0.86,-0.89],[0.88,-0.90],[0.89,-0.88],[0.90,-0.91],[0.91,-0.92],[0.92,-0.90],[0.93,-0.93],[0.94,-0.94],[0.95,-0.93],[0.96,-0.95],[0.97,-0.96],[0.98,-0.97],[0.99,-0.95],[1.00,-0.98],[1.01,-1.00],[1.02,-1.01],[0.94,-0.98],[0.91,-0.87],[1.04,-1.02],[0.89,-0.93],[0.97,-0.92],[1.03,-0.97],
[0.94,-0.95],[0.95,-0.96],[0.93,-0.94],[0.96,-0.97],[0.92,-0.93],[0.97,-0.98],[0.94,-0.92],[0.95,-0.99],[0.91,-0.91],[0.98,-0.95],[0.90,-0.90],[0.99,-0.99],[0.93,-0.97],[0.89,-0.90],[1.00,-1.02],[0.96,-0.93],[0.87,-0.88],[1.02,-0.99],[0.92,-0.96],[0.85,-0.87],[1.03,-1.04],[0.88,-0.85],[1.01,-0.95]
];

const AX_MIN = tickValues[0];
const AX_MAX = tickValues[tickValues.length - 1];
const AX_STEP = 0.316;
const FONT = '"Liberation Sans", Arial, sans-serif';

function fmt(v) {
  if (Math.abs(v) < 1e-9) return '0.000';
  return (Math.round(v * 1000) / 1000).toFixed(3);
}

function makeAxis(kind, gridIndex) {
  const isX = kind === 'x';
  return {
    type: 'value',
    gridIndex: gridIndex,
    min: AX_MIN,
    max: AX_MAX,
    interval: AX_STEP,
    name: isX ? axisTitleX : axisTitleY,
    nameLocation: 'middle',
    nameGap: isX ? 40 : 56,
    nameRotate: isX ? 0 : 90,
    nameTextStyle: { fontFamily: FONT, fontWeight: 'bold', fontSize: 15, color: '#333' },
    axisLine: { show: true, onZero: false, lineStyle: { color: '#8a8a8a', width: 1 } },
    axisTick: { show: true, inside: false, length: 4, lineStyle: { color: '#8a8a8a' } },
    axisLabel: {
      show: true, formatter: fmt, margin: isX ? 13 : 9,
      fontFamily: FONT, fontWeight: 'bold', fontSize: 12, color: '#2a2a2a',
      showMinLabel: true, showMaxLabel: true
    },
    splitLine: { show: true, lineStyle: { color: '#efefef', width: 1 } }
  };
}

function scatter(data, idx) {
  return {
    type: 'scatter', xAxisIndex: idx, yAxisIndex: idx, data: data,
    symbol: 'circle', symbolSize: 2, silent: true, animation: false, large: false,
    itemStyle: { color: '#333333', opacity: 0.85 }
  };
}

const chart = echarts.init(document.getElementById('chart'), null, { renderer: 'canvas' });
chart.setOption({
  backgroundColor: '#ffffff',
  animation: false,
  grid: [
    { left: 82, top: 9, width: 410, height: 286, show: true, borderColor: '#9a9a9a', borderWidth: 1, backgroundColor: 'transparent' },
    { left: 82, top: 449, width: 410, height: 287, show: true, borderColor: '#9a9a9a', borderWidth: 1, backgroundColor: 'transparent' }
  ],
  xAxis: [makeAxis('x', 0), makeAxis('x', 1)],
  yAxis: [makeAxis('y', 0), makeAxis('y', 1)],
  series: [
    scatter(panelAInner, 0), scatter(panelAInnerMore, 0),
    scatter(panelAMiddle, 0), scatter(panelAMiddleMore, 0),
    scatter(panelAOuter, 0), scatter(panelAOuterMore, 0),
    scatter(panelBRow1, 1), scatter(panelBRow2, 1), scatter(panelBRow3, 1), scatter(panelBRow4, 1)
  ],
  graphic: [
    { type: 'text', left: 252, top: 380, style: { text: captions[0], font: '18px "Liberation Serif", "Times New Roman", serif', fill: '#444' } },
    { type: 'text', left: 251, top: 818, style: { text: captions[1], font: '18px "Liberation Serif", "Times New Roman", serif', fill: '#444' } }
  ]
});
</script>
</body>
</html>
